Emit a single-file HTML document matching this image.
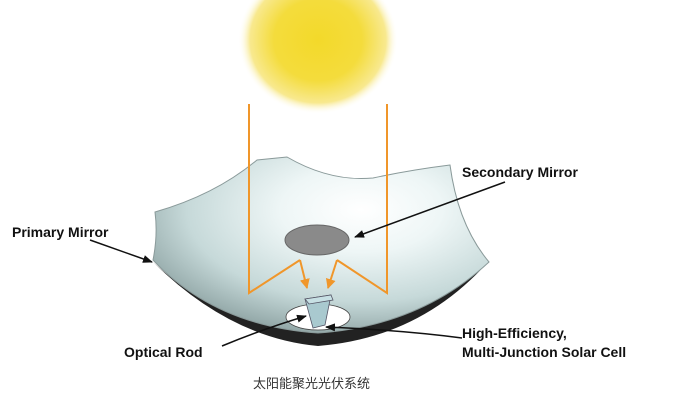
<!DOCTYPE html>
<html><head><meta charset="utf-8"><style>
html,body{margin:0;padding:0;background:#fff;width:681px;height:407px;overflow:hidden}
svg{display:block}
text{font-family:"Liberation Sans",Arial,sans-serif;font-weight:bold;font-size:14px;fill:#111}
</style></head><body>
<svg width="681" height="407" viewBox="0 0 681 407">
<defs>
<radialGradient id="sun" cx="0.5" cy="0.5" r="0.5">
<stop offset="0" stop-color="#f3d92a"/><stop offset="0.55" stop-color="#f4dc3c"/>
<stop offset="0.85" stop-color="#f8e98f"/><stop offset="1" stop-color="#fff" stop-opacity="0"/>
</radialGradient>
<radialGradient id="dish" cx="0.62" cy="0.3" r="0.8">
<stop offset="0" stop-color="#ffffff"/><stop offset="0.3" stop-color="#eef6f6"/>
<stop offset="0.65" stop-color="#c6d9d9"/><stop offset="1" stop-color="#7d9393"/>
</radialGradient>
<marker id="ab" markerWidth="10" markerHeight="8" refX="9" refY="4" orient="auto" markerUnits="userSpaceOnUse"><path d="M0,0 L10,4 L0,8 Z" fill="#111"/></marker>
<marker id="ao" markerWidth="10" markerHeight="10" refX="9" refY="5" orient="auto" markerUnits="userSpaceOnUse"><path d="M0,0 L10,5 L0,10 Z" fill="#f0962a"/></marker>
</defs>
<ellipse cx="318" cy="40" rx="80" ry="74" fill="url(#sun)"/>
<path d="M153,262 Q230,338 318,346 Q420,338 488,262 Q420,326 318,333 Q220,326 153,262Z" fill="#222"/>
<path d="M155,212 Q215,195 257,160 L287,157 Q330,182 373,178 Q410,170 450,165 Q458,225 489,262 Q420,326 318,333 Q215,326 153,260 Q158,235 155,212Z" fill="url(#dish)" stroke="#8a9a9a" stroke-width="1"/>
<ellipse cx="318" cy="317" rx="32" ry="13" fill="#fff" stroke="#444" stroke-width="0.8"/>
<path d="M305,299 L331,295 L325,325 L313,328Z" fill="#a9c9cf" stroke="#556" stroke-width="0.8"/>
<path d="M305,299 L331,295 L333,300 L309,304Z" fill="#c7e0e4" stroke="#556" stroke-width="0.8"/>
<ellipse cx="317" cy="240" rx="32" ry="15" fill="#8a8a8a" stroke="#666"/>
<g stroke="#f0962a" stroke-width="2" fill="none">
<path d="M249,104 L249,293 L300,260"/>
<path d="M387,104 L387,293 L337,260"/>
<path d="M300,260 L307,288" marker-end="url(#ao)"/>
<path d="M337,260 L328,288" marker-end="url(#ao)"/>
</g>
<g stroke="#111" stroke-width="1.5" fill="none">
<path d="M505,182 L355,237" marker-end="url(#ab)"/>
<path d="M90,240 L152,262" marker-end="url(#ab)"/>
<path d="M222,346 Q260,330 306,316" marker-end="url(#ab)"/>
<path d="M462,338 Q400,330 326,327" marker-end="url(#ab)"/>
</g>
<text x="462" y="177">Secondary Mirror</text>
<text x="12" y="237">Primary Mirror</text>
<text x="124" y="357">Optical Rod</text>
<text x="462" y="338">High-Efficiency,</text>
<text x="462" y="357">Multi-Junction Solar Cell</text>
<text x="253" y="388" style="font-weight:normal;font-size:13px;font-family:'Liberation Sans','Noto Sans CJK SC',sans-serif;fill:#333">太阳能聚光光伏系统</text>
</svg>
</body></html>
